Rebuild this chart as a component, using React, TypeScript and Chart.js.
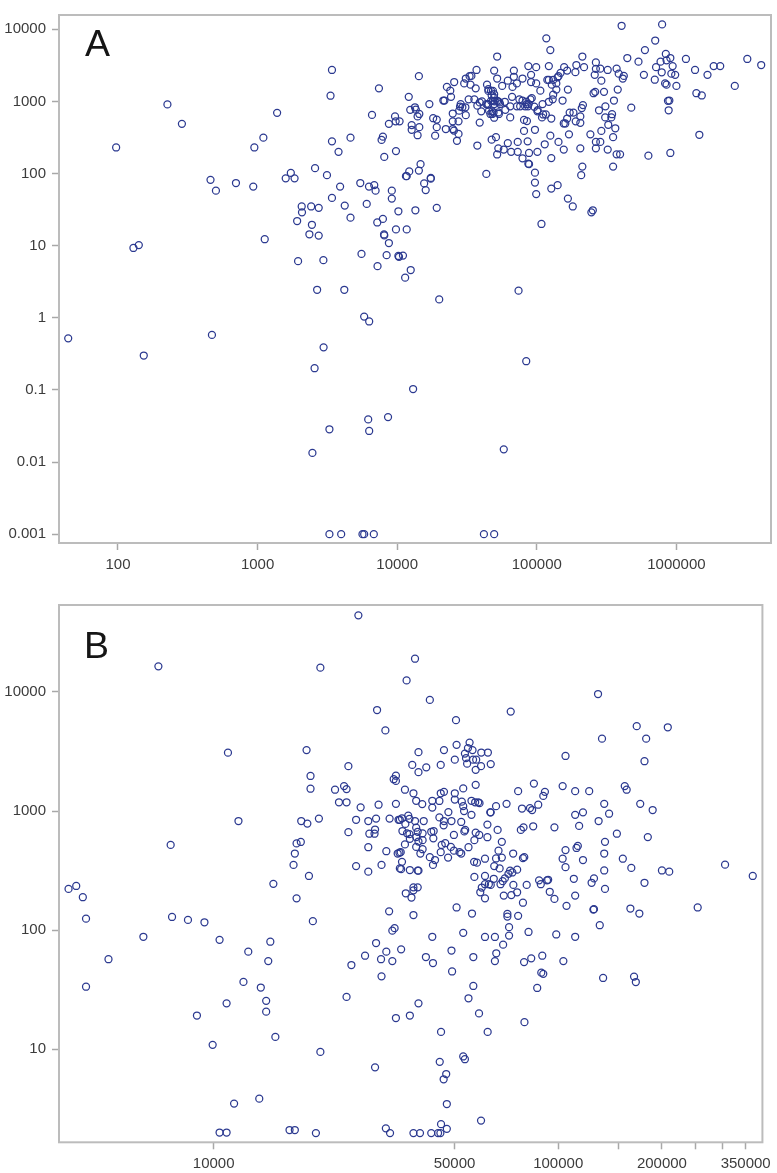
import React, { useEffect, useRef } from "react";
import { Chart, registerables } from "chart.js";

Chart.register(...registerables);

const panelAPoints: [number, number][] = [
  [97,230],[226,910],[287,490],[460,82],[503,58],[700,74],[931,66],[1125,12.3],[129,9.3],[141,10.2],
  [948,230],[1100,315],[1380,695],[1590,86],[1730,102],[1840,86],[2580,119],[3140,95],[3900,66],[3410,46],
  [4210,36],[4630,24.5],[2070,35],[2420,35],[2740,33.5],[2080,29],[1920,22],[2450,19.5],[2350,14.4],[2740,13.8],
  [1950,6.1],[2960,6.3],[2670,2.45],[4180,2.45],[3410,2730],[3330,1200],[3410,280],[3800,200],[4630,315],[7400,1520],
  [6600,650],[9650,620],[9750,530],[8720,490],[7900,325],[7730,293],[8080,170],[9800,205],[5440,74],[6280,66],
  [6850,69],[7000,58],[9150,58],[9150,45],[6050,38],[10200,30],[7900,23.5],[7200,21],[8050,14.3],[8080,13.9],
  [9800,16.8],[8720,10.9],[5550,7.7],[8400,7.4],[10200,7.2],[7230,5.2],
  [44,0.52],[153,0.3],[471,0.58],[5800,1.04],[6300,0.89],[20000,1.8],[74000,2.38],[2970,0.39],[2560,0.2],[84000,0.25],
  [13000,0.103],[6200,0.039],[8600,0.042],[3270,0.0285],[6300,0.027],[2470,0.0134],[58000,0.015],
  [3270,0.001],[3970,0.001],[5640,0.001],[5800,0.001],[6800,0.001],[41800,0.001],[49500,0.001],
  [13500,31],[19200,33.5],[11700,16.8],[10300,7],[11000,7.3],[12500,4.6],[11400,3.6],[11700,92],[15600,73],[17400,85],[16000,59],
  [405000,11200],[790000,11700],[705000,7000],[117000,7500],[125000,5150],[52000,4200],[212000,4200],[595000,5150],[445000,4000],[535000,3560],
  [840000,4550],[905000,4000],[770000,3560],[850000,3720],[1170000,3880],[3220000,3880],[4050000,3200],[1360000,2730],[1850000,3090],[2060000,3090],
  [1670000,2340],[2620000,1640],[1390000,1300],[1520000,1210],[940000,3090],[715000,2990],[785000,2540],[920000,2430],[980000,2340],[585000,2340],
  [700000,2000],[830000,1780],[850000,1710],[1000000,1640],[870000,1020],[890000,1030],[880000,755],[1460000,345],[905000,193],[630000,177],
  [475000,820],[265000,3480],[265000,2830],[285000,2850],[322000,2730],[373000,2850],[386000,2430],[420000,2260],[413000,2080],[260000,2340],
  [290000,1940],[255000,1300],[262000,1360],[303000,1360],[380000,1460],[357000,1030],[310000,855],[279000,755],[346000,665],[342000,600],
  [309000,600],[325000,475],[365000,425],[290000,390],[352000,320],[242000,350],[285000,275],[265000,275],[265000,224],[322000,215],
  [373000,185],[395000,185],[352000,125],[212000,125],[208000,95],[205000,224],[170000,350],[192000,3200],[218000,2990],[189000,2550],
  [157000,2990],[165000,2680],[122000,3090],[99000,2990],[87000,3090],[68500,2680],[68500,2200],[49500,2680],[52000,2080],[62000,1940],
  [79000,2080],[91000,2340],[91000,1860],[99000,1780],[72000,1780],[67000,1590],[56500,1640],[44000,1710],[37000,2730],[33000,2240],
  [31000,2080],[30200,1780],[33500,1710],[36500,1520],[25600,1860],[22700,1590],[24000,1410],[14300,2240],[12100,1160],[17000,920],
  [24300,1160],[21800,1030],[21400,1030],[106000,1410],[122000,1990],[119000,1990],[131000,1990],[143000,2240],[141000,2160],[148000,2490],
  [138000,1780],[128000,1710],[138000,1460],[167000,1460],[131000,1240],[130000,1070],[122000,990],[153000,1030],[110000,920],[214000,890],
  [210000,810],[183000,700],[172000,700],[205000,620],[165000,580],[156000,495],[160000,495],[190000,530],[205000,505],[127000,580],
  [116000,660],[111000,660],[109000,600],[101000,730],[97000,405],[81000,390],[81000,555],[85000,535],[125000,335],[143000,275],
  [114000,255],[156000,215],[127000,164],[86000,280],[73000,275],[62000,265],[51000,320],[47500,295],[37500,245],[53000,224],
  [58000,215],[65500,200],[73000,200],[88000,193],[101000,200],[52000,184],[79000,163],[87000,137],[88000,135],[97000,103],
  [97000,75],[99000,52],[127000,62],[141000,69],[167000,45],[181000,35],[252000,31],[246000,29],[108000,20],[43500,99],
  [14700,135],[14300,110],[12200,107],[11550,92],[17400,87],[34000,2260],[10400,530],[12400,765],[13400,830],[13600,770],
  [14400,670],[14000,620],[12700,470],[14400,440],[12700,405],[14000,340],[18100,585],[19200,560],[19200,440],[18700,335],
  [22300,415],[25000,415],[25500,395],[27500,530],[25000,530],[25000,680],[31000,645],[27500,355],[26800,285],[39000,510],
  [28500,920],[28200,850],[29300,830],[30800,830],[27800,745],[32500,1070],[35700,1070],[37500,875],[39000,970],[40500,1000],
  [40000,730],[44500,900],[48000,730],[48000,670],[47000,1400],[45000,1400],[49500,1260],[52000,1020],[48500,1020],[54000,970],
  [49500,595],[53000,705],[43500,920],[45000,920],[45000,1480],[48500,1400],[47500,1210],[49500,1130],[47000,1020],[50000,1000],
  [53000,1000],[49500,920],[54500,920],[45500,745],[49000,700],[53500,670],[46500,670],[59500,765],[59000,990],[64500,855],
  [66500,1160],[64500,600],[75000,1070],[79000,1030],[72000,855],[76000,855],[84000,990],[82500,855],[86500,855],[92000,1110],
  [90000,1070],[84500,920],[87500,920],[96000,845],[101500,760],
];

const panelBPoints: [number, number][] = [
  [26300,44000],[6910,16400],[20400,16000],[29800,7050],[31500,4750],[11000,3090],[18600,3250],[24600,2380],[19100,1970],[19100,1540],
  [22500,1510],[23900,1620],[24300,1530],[23100,1185],[24300,1185],[26700,1075],[30100,1130],[33800,1150],[11800,825],[17950,825],
  [18700,785],[20200,865],[25900,845],[28100,825],[29600,865],[32400,865],[34400,845],[24600,665],[28300,645],[29400,700],
  [29300,645],[7500,520],[17400,535],[17900,550],[17200,440],[17050,353],[18900,285],[14900,245],[28100,497],[31700,460],
  [34200,440],[25900,345],[28100,310],[30700,353],[34700,330],[17400,185],[3790,222],[3990,235],[4170,189],
  [39300,3120],[46600,3250],[50700,3600],[50100,2700],[45600,2440],[37700,2440],[41400,2330],[39300,2120],[33800,1980],[33300,1850],
  [33800,1790],[35900,1510],[38000,1410],[45600,1410],[46600,1450],[50100,1410],[50100,1250],[38700,1220],[40300,1145],[43100,1220],
  [45200,1215],[43100,1070],[48000,980],[34700,845],[35200,870],[36700,915],[37000,860],[36000,780],[38400,825],[40700,825],
  [45200,885],[46600,825],[46500,760],[49000,825],[35300,680],[36400,650],[37000,640],[38700,725],[39100,670],[38700,605],
  [40400,650],[42800,670],[43500,680],[43400,590],[49800,630],[37100,585],[39300,555],[40400,570],[35900,525],[38700,500],
  [40400,478],[39800,440],[45900,520],[47000,537],[45600,452],[48800,500],[49800,465],[47900,407],[51700,452],[42400,410],
  [43900,388],[43300,353],[34600,447],[34900,452],[35200,375],[35000,325],[37100,320],[39300,316],[39100,316],
  [19400,119],[14600,80],[14400,55],[13700,33],[14200,25.5],[14200,20.7],[24300,27.5],[39300,24.3],[49200,45],[30700,41],
  [25100,51],[27500,61],[29600,78],[31700,66],[30600,57],[33000,55],[35000,69],[33000,99],[33500,104],[41300,59.5],
  [43300,53],[43100,88],[49000,67.5],[32300,144],[38000,134],[50700,155],[36100,204],[37500,188],[38000,229],[39100,229],[38000,216],
  [38400,19000],[36300,12500],[42400,8570],[50500,5800],[72800,6840],[130500,9610],[169000,5160],[208000,5050],[180000,4050],[134000,4050],
  [105000,2900],[178000,2620],[55300,3760],[54700,3380],[56400,3250],[53600,3040],[54000,2780],[54400,2500],[56600,2700],[57800,2700],
  [59800,3100],[62500,3100],[59700,2380],[63700,2480],[57600,2220],
  [85000,1700],[103000,1620],[76500,1470],[112000,1470],[123000,1470],[156000,1620],[158000,1510],[91500,1450],[90500,1340],[136000,1150],
  [173000,1150],[188000,1020],[140500,950],[118000,975],[112000,930],[131000,825],[115000,750],[97500,730],[87500,1130],[84000,1020],
  [82800,1060],[78500,1050],[70800,1150],[66000,1100],[63700,975],[84600,745],[79300,730],[77900,695],[148000,645],[182000,605],
  [136700,552],[114000,510],[113000,490],[105000,470],[136000,440],[103000,398],[118000,388],[154000,398],[163000,333],[105000,338],
  [136000,317],[111000,270],[127000,272],[125000,250],[136700,222],[178000,250],[200000,317],[210000,310],[305000,355],[367000,285],
  [112000,195],[94500,210],[97500,183],
  [57600,1660],[53000,1550],[52500,1200],[53000,1100],[53300,1000],[56000,1220],[57400,1185],[58600,1185],[59100,1165],[56000,930],
  [63500,975],[62300,770],[66700,695],[52300,810],[53700,695],[53400,675],[57600,660],[59000,630],[62300,603],[57100,570],
  [68600,552],[54900,497],[67100,465],[68600,407],[66000,400],[52300,440],[61300,398],[57000,375],[58100,369],[74000,440],
  [79000,403],[79700,410],[65200,345],[67600,330],[76000,322],[72500,316],[71700,297],[73600,305],[70000,272],[69000,258],
  [57100,280],[61300,285],[65000,270],[61300,243],[62900,243],[63700,240],[60000,228],[59400,208],[61300,185],[68000,243],
  [74100,240],[81000,240],[76000,208],[73100,197],[69500,195],[79000,170],[56200,138],[71200,137],[71200,130],[76500,132],
  [88000,262],[89000,243],[92800,262],[93500,265],[105700,160],[127000,150],[126500,149],[162000,152],[172000,138],
  [4260,125],[4260,33.5],[4950,57],[6250,88],[7570,129],[8420,122],[9400,116.5],[10400,83],[12600,66],[12200,36.8],
  [10900,24.3],[8940,19.2],[9930,10.9],[15100,12.7],[20400,9.5],[29400,7.05],[11460,3.5],[13560,3.85],[10400,2],[10900,2],
  [16600,2.1],[17200,2.1],[19800,1.98],[31600,2.17],[32500,1.98],[38000,1.98],[39700,1.98],[42800,1.98],[44800,1.98],[45500,1.98],
  [45700,2.35],[47500,2.15],[47500,3.47],[59700,2.52],[46500,5.6],[47300,6.2],[45300,7.85],[53000,8.7],[53600,8.25],[45700,14],
  [62400,14],[79800,16.9],[58900,20],[37100,19.2],[33800,18.3],[54900,26.8],[56700,34],[86900,32.7],[89300,44],[90500,43],
  [135000,39.7],[166000,40.8],[168000,36.7],[56700,59.5],[65500,55],[66100,64],[79600,54],[83500,58],[89900,61],[103500,55],
  [69200,75.5],[72000,90],[65500,87.7],[61300,87.7],[53000,95],[72000,106],[82000,96.6],[98700,92],[112000,88],[132000,110],[254000,155],
];

const panelAXTicks = [100, 1000, 10000, 100000, 1000000];
const panelAYTicks = [0.001, 0.01, 0.1, 1, 10, 100, 1000, 10000];
const panelBXTicks = [10000, 50000, 100000, 150000, 200000, 250000, 300000, 350000];
const panelBXLabelled = [10000, 50000, 100000, 200000, 350000];
const panelBYTicks = [10, 100, 1000, 10000];

const FONT = "'Liberation Sans', Arial, sans-serif";
const INK = "#3c3c3c";
const MARK = "rgb(43,57,144)";

const framePlugin = {
  id: "frame",
  afterDatasetsDraw(chart: any) {
    const { ctx, chartArea: a } = chart;
    ctx.save();
    ctx.strokeStyle = "#bcbcbc";
    ctx.lineWidth = 2;
    ctx.strokeRect(a.left, a.top, a.right - a.left, a.bottom - a.top);
    ctx.restore();
  },
};

interface PanelOpts {
  points: [number, number][];
  xTicks: number[];
  xLabelled: number[];
  yTicks: number[];
  xMin: number; xMax: number; yMin: number; yMax: number;
  top: number; right: number; left: number; bottom: number;
}

function build(canvas: HTMLCanvasElement, o: PanelOpts) {
  const axis = (ticks: number[], labelled: number[], min: number, max: number, fit: (s: any) => void) => ({
    type: "logarithmic" as const,
    min,
    max,
    afterBuildTicks(s: any) {
      s.ticks = ticks.map((value) => ({ value }));
    },
    afterFit: fit,
    border: { display: false },
    grid: { drawOnChartArea: false, drawTicks: true, tickLength: 7, tickColor: "#a8a8a8", tickWidth: 1.5 },
    ticks: {
      autoSkip: false,
      maxRotation: 0,
      color: INK,
      padding: 6,
      font: { family: FONT, size: 15 },
      callback: (v: any) => (labelled.includes(Number(v)) ? String(v) : ""),
    },
  });
  return new Chart(canvas, {
    type: "scatter",
    data: {
      datasets: [
        {
          data: o.points.map(([x, y]) => ({ x, y })),
          pointRadius: 3.5,
          pointBorderWidth: 1.25,
          pointBorderColor: MARK,
          pointBackgroundColor: "rgba(0,0,0,0)",
          clip: false,
        } as any,
      ],
    },
    plugins: [framePlugin],
    options: {
      animation: false,
      responsive: false,
      layout: { padding: { top: o.top, right: o.right, left: 0, bottom: 0 } },
      plugins: { legend: { display: false }, tooltip: { enabled: false }, title: { display: false } },
      scales: {
        x: axis(o.xTicks, o.xLabelled, o.xMin, o.xMax, (s) => { s.height = o.bottom; }),
        y: axis(o.yTicks, o.yTicks, o.yMin, o.yMax, (s) => { s.width = o.left; }),
      },
    },
  } as any);
}

export default function App() {
  const aRef = useRef<HTMLCanvasElement>(null);
  const bRef = useRef<HTMLCanvasElement>(null);
  useEffect(() => {
    const a = build(aRef.current!, {
      points: panelAPoints, xTicks: panelAXTicks, xLabelled: panelAXTicks, yTicks: panelAYTicks,
      xMin: 37.8, xMax: 4760000, yMin: 0.000755, yMax: 15800,
      top: 6, right: 6, left: 59, bottom: 47,
    });
    const b = build(bRef.current!, {
      points: panelBPoints, xTicks: panelBXTicks, xLabelled: panelBXLabelled, yTicks: panelBYTicks,
      xMin: 3556, xMax: 391500, yMin: 1.656, yMax: 53700,
      top: 15, right: 13.4, left: 59, bottom: 30.7,
    });
    return () => { a.destroy(); b.destroy(); };
  }, []);
  const letter: React.CSSProperties = {
    position: "absolute", fontFamily: FONT, fontSize: 37.5, lineHeight: 1, color: "#151515",
  };
  return (
    <div style={{ position: "absolute", left: 0, top: 0, width: 777, height: 1173, background: "#fff", overflow: "hidden" }}>
      <canvas ref={aRef} width={777} height={590} style={{ position: "absolute", left: 0, top: 0, width: 777, height: 590 }} />
      <canvas ref={bRef} width={777} height={583} style={{ position: "absolute", left: 0, top: 590, width: 777, height: 583 }} />
      <div style={{ ...letter, left: 85, top: 25 }}>A</div>
      <div style={{ ...letter, left: 84, top: 627 }}>B</div>
    </div>
  );
}
